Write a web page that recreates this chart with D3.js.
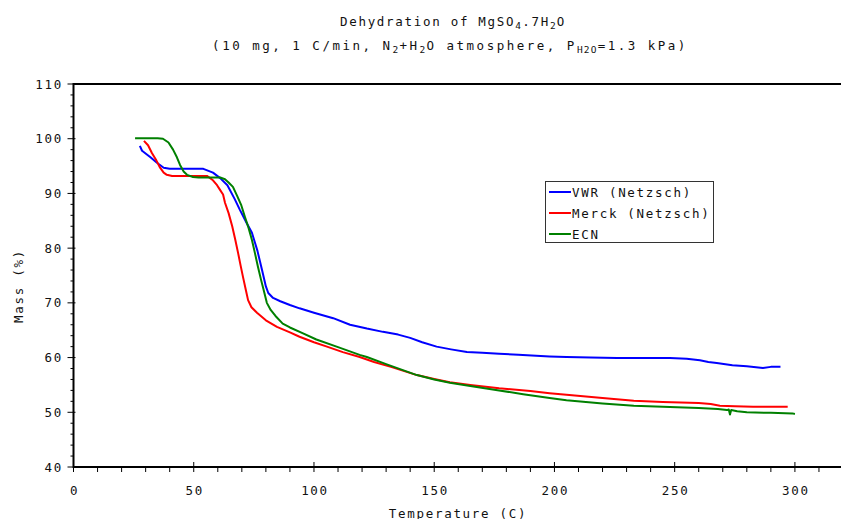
<!DOCTYPE html>
<html>
<head>
<meta charset="utf-8">
<script src="https://cdn.jsdelivr.net/npm/d3@7"></script>
<style>
  body { margin: 0; background: #fff; }
  text { font-family: "DejaVu Sans Mono", monospace; font-size: 12.5px; letter-spacing: 1.7px; fill: #111; }
</style>
</head>
<body>
<div id="chart"></div>
<script>
// values: [temperature (C), mass (%)]
const vwr = [[27.6,98.7],[28.5,97.8],[32,96.6],[34.7,95.6],[37.5,94.7],[40,94.5],[45,94.5],[50,94.5],[54,94.5],[58,93.8],[61,92.8],[64,91.5],[67,89],[69.2,87],[72,84.6],[74.2,82.8],[76.5,79.5],[78.4,76],[80,73],[81,71.8],[83,70.9],[86,70.3],[90,69.6],[94,69],[100,68.2],[108,67.2],[115,66],[122,65.3],[128.7,64.7],[135,64.2],[140,63.6],[145,62.8],[151,62],[157,61.5],[163.6,61],[170,60.9],[177,60.7],[185,60.5],[198,60.2],[205,60.1],[215,60],[226,59.9],[238,59.9],[248,59.9],[255,59.8],[260.5,59.5],[264,59.2],[267.5,59],[274,58.6],[280,58.4],[286.7,58.1],[290,58.3],[294,58.3]];
const merck = [[29.3,99.6],[31,98.8],[32.6,97.4],[34.5,96],[36,94.7],[37.5,93.8],[38.8,93.4],[41,93.2],[45,93.2],[50,93.2],[55.5,93.2],[58,92.4],[59.7,91.5],[61,90.6],[62.2,89.8],[63,88.3],[64.5,86.4],[66,84],[67.3,81.5],[68.5,79],[69.5,76.8],[70.5,74.7],[71.6,72.5],[72.6,70.5],[74,69.2],[76.3,68.2],[80,66.8],[84.6,65.6],[90,64.6],[94,63.8],[100,62.8],[105.4,62],[112,61],[119,60.1],[125,59.2],[132,58.3],[142.8,56.8],[150,56.1],[156.5,55.5],[165,55],[177,54.4],[190,53.9],[198,53.5],[205,53.2],[220,52.6],[233,52.1],[245,51.9],[260,51.7],[265,51.5],[268.8,51.2],[275,51.1],[282.6,51],[297,51]];
const ecn = [[25.6,100.1],[30,100.1],[35,100.1],[37.2,100],[39.5,99.3],[41.4,98],[43,96.6],[44.3,95.2],[45.8,94],[47.2,93.4],[49.7,93],[52,92.9],[56,92.9],[61,92.9],[63,92.6],[64.5,92],[66.3,91.2],[68,89.6],[69.8,87.8],[71.3,85.7],[72.8,83.7],[74.2,81.5],[75.5,79],[76.7,76.6],[78,74.2],[79,72.5],[80.4,70],[82,68.7],[84,67.6],[87,66.2],[90,65.5],[95,64.5],[101,63.3],[110,61.9],[119,60.5],[122,60.1],[130,58.8],[142.8,56.8],[150,56],[156.5,55.4],[165,54.8],[177,54],[187,53.3],[198,52.6],[205,52.2],[220,51.6],[233,51.2],[245,51],[260,50.8],[268,50.6],[271.7,50.4],[272.5,50.5],[273,49.6],[273.5,50.4],[276,50.2],[280,50],[290,49.9],[299,49.8],[300,49.7]];

const seriesNames = ["VWR (Netzsch)", "Merck (Netzsch)", "ECN"];
const seriesColors = ["#0000ff", "#ff0000", "#008000"];
const xTicks = [0, 50, 100, 150, 200, 250, 300];
const yTicks = [40, 50, 60, 70, 80, 90, 100, 110];

const width = 841, height = 519;
const plotL = 73.5, plotR = 843, plotT = 84, plotB = 467;

const svg = d3.select('#chart').append('svg')
    .attr('width', width)
    .attr('height', height);

svg.append('rect').attr('width', width).attr('height', height).attr('fill', '#fff');

const x = d3.scaleLinear().domain([0, 320]).range([plotL, plotR]);
const y = d3.scaleLinear().domain([40, 110]).range([plotB, plotT]);

// title with subscripts: plain strings and [subscript] arrays
function addParts(t, parts) {
    let shifted = false;
    parts.forEach(p => {
        if (Array.isArray(p)) {
            t.append('tspan').attr('dy', 3).attr('font-size', 9.5).attr('letter-spacing', 1.2).text(p[0]);
            shifted = true;
        } else {
            const ts = t.append('tspan').text(p);
            if (shifted) ts.attr('dy', -3);
            shifted = false;
        }
    });
}
const title = svg.append('text').attr('x', 453).attr('y', 26).attr('text-anchor', 'middle');
addParts(title, ["Dehydration of MgSO", ["4"], ".7H", ["2"], "O"]);
const subtitle = svg.append('text').attr('x', 450).attr('y', 50)
    .attr('text-anchor', 'middle').style('letter-spacing', '2.5px');
addParts(subtitle, ["(10 mg, 1 C/min, N", ["2"], "+H", ["2"], "O atmosphere, P", ["H2O"], "=1.3 kPa)"]);

// series lines
const line = d3.line().x(d => x(d[0])).y(d => y(d[1]));
[vwr, merck, ecn].forEach((s, i) => {
    svg.append('path')
        .attr('d', line(s))
        .attr('fill', 'none')
        .attr('stroke', seriesColors[i])
        .attr('stroke-width', 2)
        .attr('stroke-linejoin', 'round');
});

// frame
svg.append('path')
    .attr('d', d3.line()([[plotR, plotT], [plotL, plotT], [plotL, plotB], [plotR, plotB]]))
    .attr('fill', 'none')
    .attr('stroke', '#000')
    .attr('stroke-width', 2);

// x ticks
const xg = svg.append('g');
d3.range(0, 330, 10).forEach(v => {
    const major = v % 50 === 0;
    xg.append('line')
        .attr('x1', x(v)).attr('x2', x(v))
        .attr('y1', major ? plotB - 5 : plotB)
        .attr('y2', plotB + 5)
        .attr('stroke', '#000');
});
xg.selectAll('text.xl').data(xTicks).enter().append('text')
    .attr('x', d => x(d) + 1)
    .attr('y', plotB + 28)
    .attr('text-anchor', 'middle')
    .text(d => d);

// y ticks
const yg = svg.append('g');
d3.range(40, 111, 2).forEach(v => {
    const major = v % 10 === 0;
    yg.append('line')
        .attr('x1', plotL - (major ? 6 : 3)).attr('x2', plotL + (major ? 2 : 0))
        .attr('y1', y(v)).attr('y2', y(v))
        .attr('stroke', '#000');
});
yg.selectAll('text.yl').data(yTicks).enter().append('text')
    .attr('x', 63)
    .attr('y', d => y(d) + 4.5)
    .attr('text-anchor', 'end')
    .text(d => d);

// axis titles
svg.append('text')
    .attr('transform', 'translate(23,286) rotate(-90)')
    .attr('text-anchor', 'middle')
    .text('Mass (%)');
svg.append('text')
    .attr('x', 458)
    .attr('y', 518)
    .attr('text-anchor', 'middle')
    .text('Temperature (C)');

// legend
const lg = svg.append('g');
lg.append('rect')
    .attr('x', 545.5).attr('y', 181.5)
    .attr('width', 168).attr('height', 61)
    .attr('fill', '#fff')
    .attr('stroke', '#333');
seriesNames.forEach((n, i) => {
    const ly = 192 + i * 21;
    lg.append('line')
        .attr('x1', 549).attr('x2', 571)
        .attr('y1', ly).attr('y2', ly)
        .attr('stroke', seriesColors[i])
        .attr('stroke-width', 2);
    lg.append('text')
        .attr('x', 572)
        .attr('y', ly + 5)
        .text(n);
});
</script>
</body>
</html>
